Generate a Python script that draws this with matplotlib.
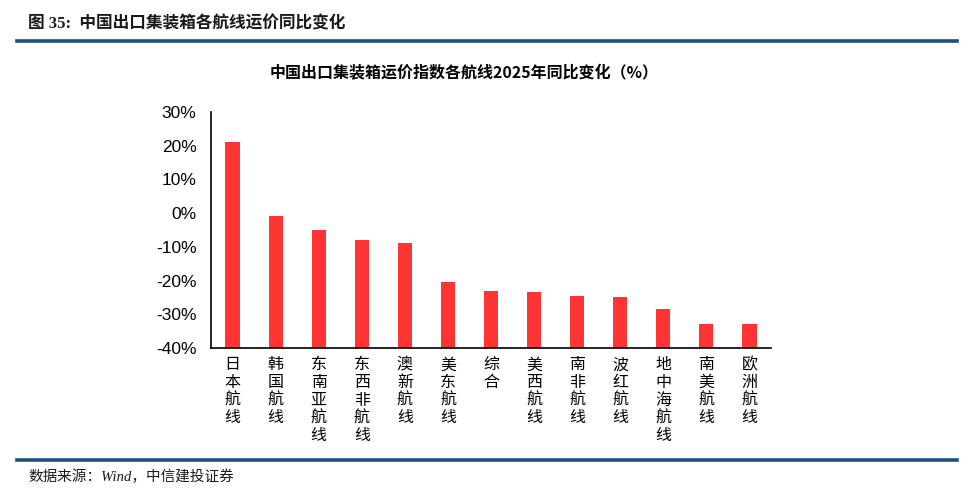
import matplotlib
matplotlib.use("Agg")
import matplotlib.pyplot as plt
from matplotlib.ticker import FuncFormatter
from matplotlib.lines import Line2D

plt.rcParams['font.family'] = ['Liberation Sans', 'Noto Sans CJK SC', 'DejaVu Sans']

categories = ['日本航线', '韩国航线', '东南亚航线', '东西非航线', '澳新航线', '美东航线', '综合',
              '美西航线', '南非航线', '波红航线', '地中海航线', '南美航线', '欧洲航线']
values = [21.2, -0.8, -5.0, -8.0, -8.8, -20.5, -23.1, -23.4, -24.6, -24.9, -28.5, -32.8, -32.8]
yticks = [-40, -30, -20, -10, 0, 10, 20, 30]

W, H = 972, 501
fig = plt.figure(figsize=(W / 100, H / 100), dpi=100)

ax = fig.add_axes([211 / W, 1 - 348 / H, (771 - 211) / W, (348 - 112) / H])
x = list(range(len(categories)))
bottom = -40
ax.bar(x, [v - bottom for v in values], bottom=bottom, width=0.33, color='#FF3535', zorder=2)
ax.set_xlim(-0.5, len(categories) - 0.5)
ax.set_ylim(-40, 30)
ax.set_yticks(yticks)
ax.yaxis.set_major_formatter(FuncFormatter(lambda v, p: f'{int(v)}%'))
ax.set_xticks(x)
ax.set_xticklabels(['\n'.join(c) for c in categories], fontfamily=['Noto Sans CJK SC'],
                   fontsize=11.5, linespacing=1.05, va='top')
for sp in ['top', 'right']:
    ax.spines[sp].set_visible(False)
ax.spines['left'].set_linewidth(1.2)
ax.spines['bottom'].set_linewidth(1.2)
ax.tick_params(axis='y', length=0, labelsize=12.5, pad=10.5)
ax.tick_params(axis='x', length=0, pad=6)

fig.text(464 / W, 1 - 73 / H, '中国出口集装箱运价指数各航线2025年同比变化（%）',
         ha='center', va='center', fontsize=11.5, fontweight='bold',
         fontfamily=['Noto Sans CJK SC', 'DejaVu Sans'])

fig.text(28 / W, 1 - 24 / H, '图 35:  中国出口集装箱各航线运价同比变化', ha='left', va='center',
         fontsize=12, fontweight='bold', fontfamily=['Liberation Serif', 'Noto Sans CJK SC', 'DejaVu Sans'],
         color='#1a1a1a')

fig.add_artist(Line2D([17 / W, 957 / W], [1 - 40.5 / H, 1 - 40.5 / H], color='#1F4E79', lw=2.6))
fig.add_artist(Line2D([17 / W, 957 / W], [1 - 460 / H, 1 - 460 / H], color='#1F4E79', lw=2.6))

fig.text(28 / W, 1 - 477 / H, '数据来源：Wind，中信建投证券', ha='left', va='center',
         fontsize=10.5, style='italic', fontfamily=['Liberation Serif', 'Noto Sans CJK SC', 'DejaVu Sans'],
         color='#1a1a1a')

fig.savefig('out.png', dpi=100)
